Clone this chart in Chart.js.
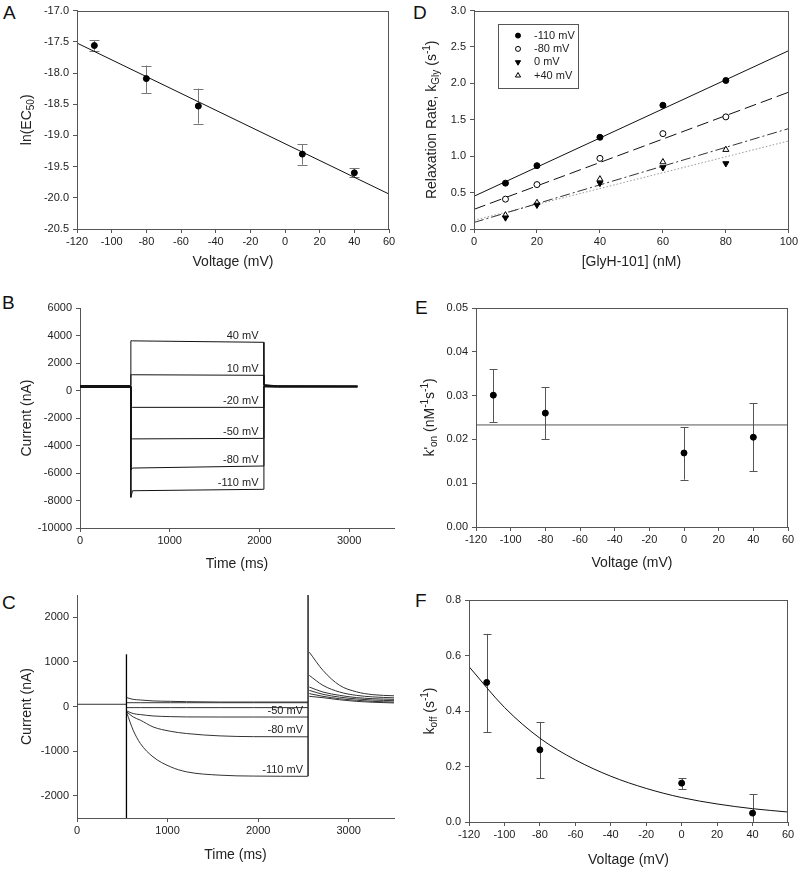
<!DOCTYPE html>
<html>
<head>
<meta charset="utf-8">
<script src="https://cdn.jsdelivr.net/npm/chart.js@4.4.0/dist/chart.umd.min.js"></script>
<style>
  body { margin: 0; width: 800px; height: 870px; background: #fff; position: relative; overflow: hidden;
         font-family: "Liberation Sans", Arial, sans-serif; }
  canvas { position: absolute; }
  .tag { position: absolute; font-size: 19px; line-height: 1; color: #111; }
</style>
</head>
<body>
<div class="tag" style="left:3px;top:2.5px">A</div>
<div class="tag" style="left:413px;top:2.5px">D</div>
<div class="tag" style="left:2px;top:292.5px">B</div>
<div class="tag" style="left:415px;top:297.5px">E</div>
<div class="tag" style="left:2px;top:592.5px">C</div>
<div class="tag" style="left:415px;top:590.5px">F</div>

<canvas id="cA" width="400" height="285" style="left:0;top:0"></canvas>
<canvas id="cD" width="400" height="285" style="left:400px;top:0"></canvas>
<canvas id="cB" width="400" height="290" style="left:0;top:285px"></canvas>
<canvas id="cE" width="400" height="290" style="left:400px;top:285px"></canvas>
<canvas id="cC" width="400" height="295" style="left:0;top:575px"></canvas>
<canvas id="cF" width="400" height="295" style="left:400px;top:575px"></canvas>

<script>
// ---- A: ln(EC50) vs voltage
const aVolt = [-110, -80, -50, 10, 40];
const aLnEC50 = [-17.56, -18.09, -18.53, -19.30, -19.60];
const aErrHi = [-17.47, -17.88, -18.25, -19.14, -19.53];
const aErrLo = [-17.65, -18.32, -18.81, -19.47, -19.67];
const aFitV = [-120, 60];
const aFit = [-17.52, -19.94];
const aXTicks = [-120, -100, -80, -60, -40, -20, 0, 20, 40, 60];
const aYTicks = [-20.5, -20.0, -19.5, -19.0, -18.5, -18.0, -17.5, -17.0];

// ---- D: relaxation rate vs [GlyH-101]
const dConc = [10, 20, 40, 60, 80];
const d110 = [0.63, 0.87, 1.26, 1.70, 2.04];
const d80 = [0.41, 0.61, 0.97, 1.31, 1.54];
const d0 = [0.155, 0.33, 0.63, 0.845, 0.90];
const d40 = [0.19, 0.36, 0.685, 0.92, 1.09];
const dFitConc = [0, 100];
const dFit110 = [0.45, 2.45];
const dFit80 = [0.27, 1.88];
const dFit40 = [0.09, 1.38];
const dFit0 = [0.12, 1.21];
const dLegend = ['-110 mV', '-80 mV', '0 mV', '+40 mV'];
const dXTicks = [0, 20, 40, 60, 80, 100];
const dYTicks = [0, 0.5, 1.0, 1.5, 2.0, 2.5, 3.0];

// ---- B: current traces, depolarising / hyperpolarising steps
const bTime = [0, 565, 567, 585, 2048, 2050, 2200, 3093];
const b40 = [360, 360, 3620, 3610, 3505, 420, 340, 330];
const b10 = [340, 340, 1150, 1145, 1105, 400, 330, 320];
const bm20 = [320, 320, -1230, -1225, -1225, 380, 320, 310];
const bm50 = [300, 300, -3530, -3520, -3480, 360, 300, 300];
const bm80 = [250, 250, -5770, -5640, -5490, 300, 270, 270];
const bm110 = [220, 220, -7770, -7290, -7185, 260, 240, 240];
const bLabels = ['40 mV', '10 mV', '-20 mV', '-50 mV', '-80 mV', '-110 mV'];
const bLabelY = [3510, 1110, -1225, -3480, -5495, -7190];
const bLabelT = 1990;
const bXTicks = [0, 1000, 2000, 3000];
const bYTicks = [-10000, -8000, -6000, -4000, -2000, 0, 2000, 4000, 6000];

// ---- C: current traces with GlyH-101
const cPreT = [0, 545];
const cPre = [50, 50];
const cSpike1T = [546, 546];
const cSpike1 = [-2500, 1170];
const cSpike2T = [2551, 2551];
const cSpike2 = [-1565, 2500];
const cStepT = [550, 620, 700, 840, 1030, 1210, 1580, 1950, 2548];
const c40Step = [198, 160, 146, 125, 116, 108, 100, 100, 100];
const c10Step = [85, 85, 85, 85, 85, 85, 85, 85, 85];
const cm20Step = [-25, -25, -25, -25, -25, -25, -25, -25, -25];
const cm50Step = [-100, -159, -181, -212, -227, -234, -236, -236, -236];
const cm80Step = [-122, -234, -307, -458, -555, -606, -659, -676, -680];
const cm110Step = [-145, -530, -830, -1130, -1350, -1465, -1540, -1560, -1565];
const cTailT = [2565, 2716, 2900, 3084, 3267, 3500];
const c40Tail = [228, 198, 150, 115, 95, 80];
const c10Tail = [288, 228, 175, 140, 115, 100];
const cm20Tail = [362, 273, 210, 170, 145, 130];
const cm50Tail = [436, 324, 250, 200, 175, 160];
const cm80Tail = [697, 474, 324, 250, 215, 195];
const cm110Tail = [1218, 809, 474, 330, 265, 240];
const cLabels = ['-50 mV', '-80 mV', '-110 mV'];
const cLabelY = [-236, -680, -1565];
const cLabelT = 2495;
const cXTicks = [0, 1000, 2000, 3000];
const cYTicks = [-2000, -1000, 0, 1000, 2000];

// ---- E: k'on vs voltage
const eVolt = [-110, -80, 0, 40];
const eKon = [0.0301, 0.026, 0.0169, 0.0205];
const eErrHi = [0.036, 0.0319, 0.0228, 0.0282];
const eErrLo = [0.024, 0.020, 0.0108, 0.0127];
const eFitV = [-120, 60];
const eFit = [0.0233, 0.0233];
const eYTicks = [0, 0.01, 0.02, 0.03, 0.04, 0.05];

// ---- F: koff vs voltage
const fVolt = [-110, -80, 0, 40];
const fKoff = [0.503, 0.260, 0.140, 0.032];
const fErrHi = [0.678, 0.360, 0.158, 0.100];
const fErrLo = [0.324, 0.158, 0.119, -0.036];
const fFitV = [-120, -100, -80, -60, -40, -20, 0, 20, 40, 60];
const fFit = [0.56, 0.413, 0.302, 0.224, 0.165, 0.121, 0.088, 0.065, 0.048, 0.036];
const fYTicks = [0, 0.2, 0.4, 0.6, 0.8];

const FONT = '"Liberation Sans", Arial, sans-serif';
Chart.defaults.font.family = FONT;
Chart.defaults.font.size = 11;
Chart.defaults.color = '#222';

const pts = (xs, ys) => xs.map((x, i) => ({ x, y: ys[i] }));

function axis(side, min, max, ticks, fmt, size, title, titlePad) {
  return {
    type: 'linear', min, max,
    afterBuildTicks: a => { a.ticks = ticks.map(v => ({ value: v })); },
    afterFit: a => { if (side === 'y') a.width = size; else a.height = size; },
    ticks: { callback: v => fmt(v), padding: side === 'y' ? 4 : 2, color: '#222',
             font: { size: 11 }, maxRotation: 0, autoSkip: false },
    grid: { drawOnChartArea: false, drawTicks: true, tickLength: 4, color: '#555' },
    border: { color: '#555', width: 1 },
    title: title ? { display: true, text: title, color: '#222', font: { size: 14 },
                     padding: { top: 0, bottom: titlePad } } : { display: false }
  };
}

const fix = n => v => v.toFixed(n);
const plain = v => String(v);

function points(xs, ys, extra) {
  return Object.assign({ data: pts(xs, ys), showLine: false, pointRadius: 3,
    pointBackgroundColor: '#000', pointBorderColor: '#000', pointBorderWidth: 1 }, extra || {});
}
function line(xs, ys, extra) {
  return Object.assign({ data: pts(xs, ys), showLine: true, pointRadius: 0,
    borderColor: '#111', borderWidth: 1, tension: 0 }, extra || {});
}

// full box round the plot area
const frame = {
  id: 'frame',
  afterDraw(chart, args, o) {
    if (!o || !o.on) return;
    const { ctx, chartArea: c } = chart;
    ctx.save();
    ctx.strokeStyle = '#555';
    ctx.lineWidth = 1;
    ctx.strokeRect(Math.round(c.left) + 0.5, Math.round(c.top) + 0.5,
                   Math.round(c.right - c.left) - 1, Math.round(c.bottom - c.top));
    ctx.restore();
  }
};

// vertical error bars with caps
const errorBars = {
  id: 'errorBars',
  beforeDatasetsDraw(chart, args, o) {
    if (!o || !o.x) return;
    const { ctx, chartArea: c, scales: { x, y } } = chart;
    ctx.save();
    ctx.beginPath();
    ctx.rect(c.left, c.top, c.right - c.left, c.bottom - c.top);
    ctx.clip();
    ctx.strokeStyle = o.color;
    ctx.lineWidth = 1;
    o.x.forEach((v, i) => {
      const px = Math.round(x.getPixelForValue(v)) + 0.5;
      const hi = y.getPixelForValue(o.hi[i]);
      const lo = y.getPixelForValue(o.lo[i]);
      ctx.beginPath();
      ctx.moveTo(px, hi); ctx.lineTo(px, lo);
      ctx.moveTo(px - o.cap, Math.round(hi) + 0.5); ctx.lineTo(px + o.cap, Math.round(hi) + 0.5);
      ctx.moveTo(px - o.cap, Math.round(lo) + 0.5); ctx.lineTo(px + o.cap, Math.round(lo) + 0.5);
      ctx.stroke();
    });
    ctx.restore();
  }
};

// rotated y-axis title with sub/superscripts
const yTitle = {
  id: 'yTitle',
  afterDraw(chart, args, o) {
    if (!o || !o.parts) return;
    const { ctx, chartArea: c } = chart;
    const big = '14px ' + FONT, small = '10px ' + FONT;
    ctx.save();
    ctx.translate(o.x, (c.top + c.bottom) / 2);
    ctx.rotate(-Math.PI / 2);
    ctx.fillStyle = '#222';
    ctx.textBaseline = 'middle';
    let total = 0;
    o.parts.forEach(([t, m]) => { ctx.font = m ? small : big; total += ctx.measureText(t).width; });
    let cx = -total / 2;
    o.parts.forEach(([t, m]) => {
      ctx.font = m ? small : big;
      ctx.fillText(t, cx, m === -1 ? 4 : m === 1 ? -5 : 0);
      cx += ctx.measureText(t).width;
    });
    ctx.restore();
  }
};

// text labels placed on the traces
const traceLabels = {
  id: 'traceLabels',
  afterDatasetsDraw(chart, args, o) {
    if (!o || !o.text) return;
    const { ctx, scales: { x, y } } = chart;
    ctx.save();
    ctx.font = '11px ' + FONT;
    ctx.fillStyle = '#222';
    ctx.textAlign = 'right';
    ctx.textBaseline = 'bottom';
    o.text.forEach((t, i) => ctx.fillText(t, x.getPixelForValue(o.t), y.getPixelForValue(o.y[i]) - 1));
    ctx.restore();
  }
};

// boxed legend inside the plot (panel D)
const boxLegend = {
  id: 'boxLegend',
  afterDraw(chart, args, o) {
    if (!o || !o.items) return;
    const { ctx, chartArea: c } = chart;
    const x0 = c.left + o.dx, y0 = c.top + o.dy;
    ctx.save();
    ctx.strokeStyle = '#555';
    ctx.lineWidth = 1;
    ctx.strokeRect(Math.round(x0) + 0.5, Math.round(y0) + 0.5, o.w, o.h);
    ctx.font = '11px ' + FONT;
    ctx.textBaseline = 'middle';
    o.items.forEach((idx, i) => {
      const ds = chart.data.datasets[idx];
      const yy = y0 + o.first + i * o.step;
      ctx.fillStyle = ds.pointBackgroundColor;
      ctx.strokeStyle = ds.pointBorderColor;
      ctx.lineWidth = 1;
      Chart.helpers.drawPoint(ctx, { pointStyle: ds.pointStyle || 'circle', radius: ds.pointRadius - 0.5,
        rotation: ds.pointRotation || 0, borderWidth: 1 }, x0 + 20, yy);
      ctx.fillStyle = '#222';
      ctx.fillText(ds.label, x0 + 36, yy);
    });
    ctx.restore();
  }
};

function panel(id, pad, xs, ys, datasets, plugins) {
  return new Chart(document.getElementById(id), {
    type: 'scatter',
    data: { datasets },
    options: {
      responsive: false, animation: false, devicePixelRatio: 1,
      layout: { padding: { left: 0, top: pad.t, right: pad.r, bottom: 0 } },
      scales: { x: xs, y: ys },
      plugins: Object.assign({ legend: { display: false }, tooltip: { enabled: false } }, plugins)
    },
    plugins: [frame, errorBars, yTitle, traceLabels, boxLegend]
  });
}

// A
panel('cA', { t: 10, r: 11 },
  axis('x', -120, 60, aXTicks, plain, 56, 'Voltage (mV)', 14),
  axis('y', -20.5, -17.0, aYTicks, fix(1), 77),
  [points(aVolt, aLnEC50), line(aFitV, aFit)],
  { frame: { on: true }, errorBars: { x: aVolt, hi: aErrHi, lo: aErrLo, color: '#777', cap: 5 },
    yTitle: { x: 27, parts: [['ln(EC', 0], ['50', -1], [')', 0]] } });

// D
panel('cD', { t: 10, r: 11 },
  axis('x', 0, 100, dXTicks, plain, 56, '[GlyH-101] (nM)', 14),
  axis('y', 0, 3, dYTicks, fix(1), 74),
  [
    points(dConc, d110, { label: dLegend[0], pointRadius: 3 }),
    points(dConc, d80, { label: dLegend[1], pointRadius: 3, pointBackgroundColor: '#fff' }),
    points(dConc, d0, { label: dLegend[2], pointStyle: 'triangle', pointRotation: 180, pointRadius: 3.5 }),
    points(dConc, d40, { label: dLegend[3], pointStyle: 'triangle', pointRadius: 3.5, pointBackgroundColor: '#fff' }),
    line(dFitConc, dFit110),
    line(dFitConc, dFit80, { borderDash: [12, 5] }),
    line(dFitConc, dFit40, { borderDash: [10, 3, 2, 3], borderColor: '#333' }),
    line(dFitConc, dFit0, { borderDash: [1.5, 2], borderColor: '#999' })
  ],
  { frame: { on: true },
    yTitle: { x: 32, parts: [['Relaxation Rate, k', 0], ['Gly', -1], [' (s', 0], ['-1', 1], [')', 0]] },
    boxLegend: { items: [0, 1, 2, 3], dx: 24, dy: 13, w: 80, h: 64, first: 12, step: 13.3 } });

// B
panel('cB', { t: 23, r: 6 },
  axis('x', 0, 3500, bXTicks, plain, 47, 'Time (ms)', 2),
  axis('y', -10000, 6000, bYTicks, plain, 80),
  [b40, b10, bm20, bm50, bm80, bm110].map(s => line(bTime, s, { borderColor: '#111' })),
  { yTitle: { x: 27, parts: [['Current (nA)', 0]] },
    traceLabels: { text: bLabels, y: bLabelY, t: bLabelT } });

// E
panel('cE', { t: 23, r: 12 },
  axis('x', -120, 60, aXTicks, plain, 48, 'Voltage (mV)', 3.5),
  axis('y', 0, 0.05, eYTicks, fix(2), 76),
  [points(eVolt, eKon), line(eFitV, eFit, { borderColor: '#555' })],
  { frame: { on: true }, errorBars: { x: eVolt, hi: eErrHi, lo: eErrLo, color: '#555', cap: 4 },
    yTitle: { x: 30, parts: [["k'", 0], ['on', -1], [' (nM', 0], ['-1', 1], ['s', 0], ['-1', 1], [')', 0]] } });

// C
const cSteps = [c40Step, c10Step, cm20Step, cm50Step, cm80Step, cm110Step];
const cTails = [c40Tail, c10Tail, cm20Tail, cm50Tail, cm80Tail, cm110Tail];
panel('cC', { t: 20, r: 6 },
  axis('x', 0, 3500, cXTicks, plain, 52, 'Time (ms)', 6.6),
  axis('y', -2500, 2500, cYTicks, plain, 77),
  [
    line(cSpike1T, cSpike1, { borderColor: '#000', borderWidth: 1.3 }),
    line(cSpike2T, cSpike2, { borderColor: '#000', borderWidth: 1.3 }),
    line(cPreT, cPre, { borderColor: '#333' }),
    ...cSteps.map(s => line(cStepT, s, { borderColor: '#333', cubicInterpolationMode: 'monotone' })),
    ...cTails.map(s => line(cTailT, s, { borderColor: '#333', cubicInterpolationMode: 'monotone' }))
  ],
  { yTitle: { x: 27, parts: [['Current (nA)', 0]] },
    traceLabels: { text: cLabels, y: cLabelY, t: cLabelT } });

// F
panel('cF', { t: 25, r: 12 },
  axis('x', -120, 60, aXTicks, plain, 48, 'Voltage (mV)', 1.6),
  axis('y', 0, 0.8, fYTicks, fix(1), 69),
  [points(fVolt, fKoff), line(fFitV, fFit, { cubicInterpolationMode: 'monotone' })],
  { frame: { on: true }, errorBars: { x: fVolt, hi: fErrHi, lo: fErrLo, color: '#555', cap: 4 },
    yTitle: { x: 30, parts: [['k', 0], ['off', -1], [' (s', 0], ['-1', 1], [')', 0]] } });
</script>
</body>
</html>
